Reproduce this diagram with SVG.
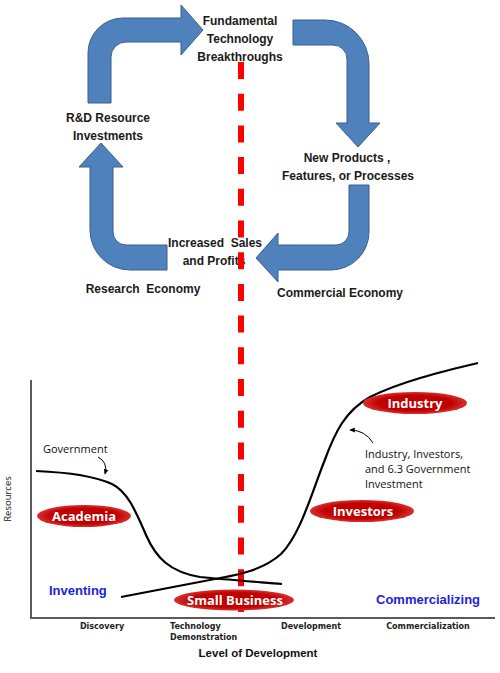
<svg xmlns="http://www.w3.org/2000/svg" width="500" height="673" viewBox="0 0 500 673">
<defs>
<style>
.arrow{fill:#4F81BD;stroke:#3A5F8F;stroke-width:1}
.top{font-family:"Liberation Sans",Arial,sans-serif;font-weight:bold;font-size:12px;fill:#1a1a1a;text-anchor:middle;white-space:pre}
.curve{fill:none;stroke:#000;stroke-width:2.2}
.note{font-family:"Open Sans","DejaVu Sans",sans-serif;font-size:11px;fill:#111}
.ell{fill:url(#rg)}
.ellt{font-family:"Open Sans","DejaVu Sans",sans-serif;font-weight:bold;font-size:13px;fill:#fff;text-anchor:middle}
.phase{font-family:"Liberation Sans",Arial,sans-serif;font-weight:bold;font-size:13px;fill:#2323D6}
.tick{font-family:"DejaVu Sans",Verdana,sans-serif;font-weight:bold;font-size:8px;fill:#222}
.thin{fill:none;stroke:#000;stroke-width:1}
</style>
<radialGradient id="rg" cx="50%" cy="50%" r="50%">
<stop offset="0.7" stop-color="#C00000"/>
<stop offset="1" stop-color="#D83030"/>
</radialGradient>
<marker id="ah" viewBox="0 0 10 10" refX="8" refY="5" markerWidth="6" markerHeight="6" orient="auto">
<path d="M0,1 L9,5 L0,9 Z" fill="#000"/>
</marker>
</defs>
<rect width="500" height="673" fill="#fff"/>

<g id="connectors">
<path class="arrow" d="M88,103 L88,53 A35,35 0 0 1 123,18 L181,18 L181,5 L203,30 L181,55 L181,42 L126,42 A15,15 0 0 0 111,57 L111,103 Z"/>
<path class="arrow" d="M293,20 L325,20 A44,44 0 0 1 369,64 L369,123 L380,123 L358,147 L336,123 L347,123 L347,59 A14,14 0 0 0 333,45 L293,45 Z"/>
<path class="arrow" d="M349,185 L369,185 L369,232 A38,38 0 0 1 331,270 L278,270 L278,282 L256,258 L278,233 L278,245 L336,245 A13,13 0 0 0 349,232 Z"/>
<path class="arrow" d="M167,245 L126,245 A13,13 0 0 1 113,232 L113,167 L123,167 L101,143 L79,167 L90,167 L90,230 A40,40 0 0 0 130,270 L167,270 Z"/>
</g>

<g id="n-fundamental"><text class="top" x="240" y="25">Fundamental</text><text class="top" x="240" y="43">Technology</text><text class="top" x="240" y="61">Breakthroughs</text></g>
<g id="n-rd"><text class="top" x="108" y="122">R&amp;D Resource</text><text class="top" x="108" y="140">Investments</text></g>
<g id="n-newproducts"><text class="top" x="347" y="162">New Products ,</text><text class="top" x="348" y="180">Features, or Processes</text></g>
<g id="n-sales"><text class="top" x="215" y="247" xml:space="preserve">Increased  Sales</text><text class="top" x="214" y="265">and Profits</text></g>
<g id="n-research"><text class="top" x="143" y="293" xml:space="preserve">Research  Economy</text></g>
<g id="n-commercial"><text class="top" x="340" y="297">Commercial Economy</text></g>

<line id="divider" x1="241" y1="62" x2="241" y2="612" stroke="#FF0000" stroke-width="6" stroke-dasharray="17 14.7"/>

<g id="chart">
<path d="M31,380 L31,618 L495,618" fill="none" stroke="#5a5a5a" stroke-width="2"/>
<text font-family="Open Sans,DejaVu Sans,sans-serif" font-size="9.5" fill="#111" text-anchor="middle" transform="translate(11,499) rotate(-90)">Resources</text>
<path class="curve" d="M36,471 C60,472 92,475 112,484 C128,492 136,512 146,535 C156,558 170,572 200,577 C230,580 258,582 282,584"/>
<path class="curve" d="M121,597 L215,579 C236,575 262,571 281,554 C300,535 311,495 324,462 C335,432 345,411 370,397 C400,382 440,372 478,363"/>
<text class="note" x="43" y="453">Government</text>
<path class="thin" d="M98,457 Q108,462 105,474" marker-end="url(#ah)"/>
<text class="note" x="365" y="458">Industry, Investors,</text>
<text class="note" x="365" y="473">and 6.3 Government</text>
<text class="note" x="365" y="488">Investment</text>
<path class="thin" d="M373,443 Q365,430 350,430" marker-end="url(#ah)"/>
<text class="phase" x="49" y="595">Inventing</text>
<text class="phase" x="376" y="604">Commercializing</text>
<text class="tick" x="102" y="629" text-anchor="middle">Discovery</text>
<text class="tick" x="170" y="629">Technology</text>
<text class="tick" x="170" y="640">Demonstration</text>
<text class="tick" x="311" y="629" text-anchor="middle">Development</text>
<text class="tick" x="428" y="629" text-anchor="middle">Commercialization</text>
<text x="258" y="657" text-anchor="middle" font-family="Liberation Sans,Arial,sans-serif" font-weight="bold" font-size="11.5" fill="#111">Level of Development</text>
</g>

<g id="n-industry"><ellipse class="ell" cx="415" cy="403" rx="52" ry="11"/><text class="ellt" x="415" y="408">Industry</text></g>
<g id="n-investors"><ellipse class="ell" cx="362" cy="511" rx="52" ry="11"/><text class="ellt" x="363" y="516">Investors</text></g>
<g id="n-academia"><ellipse class="ell" cx="84" cy="516" rx="47" ry="11"/><text class="ellt" x="84" y="521">Academia</text></g>
<g id="n-smallbusiness"><ellipse class="ell" cx="234" cy="600" rx="60" ry="10.5"/><text class="ellt" x="235" y="605">Small Business</text></g>
</svg>
